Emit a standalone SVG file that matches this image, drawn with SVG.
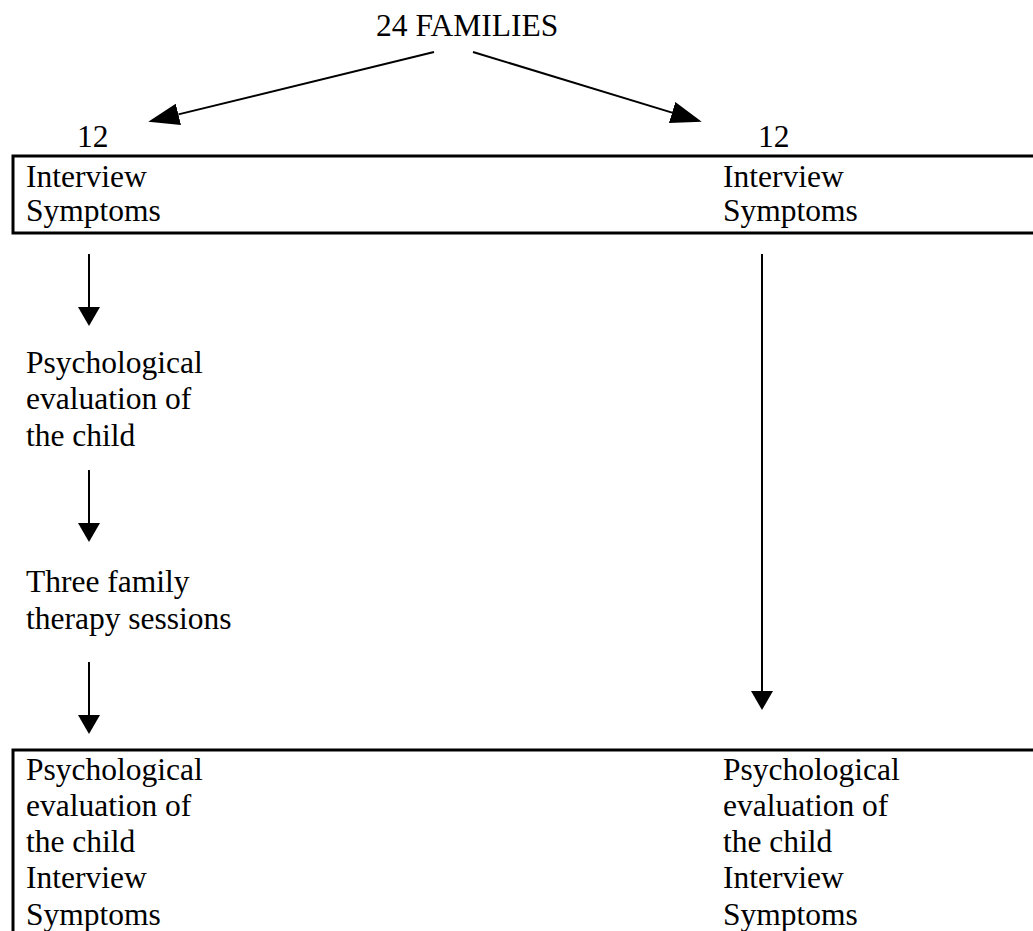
<svg xmlns="http://www.w3.org/2000/svg" width="1033" height="931" viewBox="0 0 1033 931">
<style>
  text { font-family: "Liberation Serif", "Times New Roman", serif; font-size: 31.5px; fill: #000; }
  .box { fill: none; stroke: #000; stroke-width: 3; }
  .conn { stroke: #000; stroke-width: 2; fill: none; }
</style>
<defs>
  <marker id="hv" markerUnits="userSpaceOnUse" viewBox="0 0 19 22" markerWidth="19" markerHeight="22" refX="0" refY="11" orient="auto">
    <path d="M0,0 L19,11 L0,22 z" fill="#000"/>
  </marker>
  <marker id="hd" markerUnits="userSpaceOnUse" viewBox="0 0 31 22" markerWidth="31" markerHeight="22" refX="0" refY="11" orient="auto">
    <path d="M0,0 L31,11 L0,22 z" fill="#000"/>
  </marker>
</defs>
<rect width="1033" height="931" fill="#fff"/>
<g id="root">
  <text x="376" y="36">24 FAMILIES</text>
</g>
<g id="count-left">
  <text x="77" y="147">12</text>
</g>
<g id="count-right">
  <text x="758" y="147">12</text>
</g>
<g id="first-stage">
  <rect class="box" x="13" y="156" width="1040" height="77"/>
  <text x="26" y="187">Interview</text>
  <text x="26" y="221">Symptoms</text>
  <text x="723" y="187">Interview</text>
  <text x="723" y="221">Symptoms</text>
</g>
<g id="psych-eval">
  <text x="26" y="373">Psychological</text>
  <text x="26" y="409">evaluation of</text>
  <text x="26" y="446">the child</text>
</g>
<g id="therapy">
  <text x="26" y="592">Three family</text>
  <text x="26" y="629">therapy sessions</text>
</g>
<g id="final-stage">
  <rect class="box" x="13" y="750" width="1040" height="200"/>
  <text x="26" y="780">Psychological</text>
  <text x="26" y="816">evaluation of</text>
  <text x="26" y="852">the child</text>
  <text x="26" y="888">Interview</text>
  <text x="26" y="925">Symptoms</text>
  <text x="723" y="780">Psychological</text>
  <text x="723" y="816">evaluation of</text>
  <text x="723" y="852">the child</text>
  <text x="723" y="888">Interview</text>
  <text x="723" y="925">Symptoms</text>
</g>
<g id="connectors">
  <line class="conn" x1="434" y1="52" x2="178.4" y2="114.4" marker-end="url(#hd)"/>
  <line class="conn" x1="473" y1="52" x2="672.1" y2="112.6" marker-end="url(#hd)"/>
  <line class="conn" x1="89" y1="254" x2="89" y2="307" marker-end="url(#hv)"/>
  <line class="conn" x1="89" y1="470" x2="89" y2="523" marker-end="url(#hv)"/>
  <line class="conn" x1="89" y1="662" x2="89" y2="715" marker-end="url(#hv)"/>
  <line class="conn" x1="762" y1="254" x2="762" y2="691" marker-end="url(#hv)"/>
</g>
</svg>
